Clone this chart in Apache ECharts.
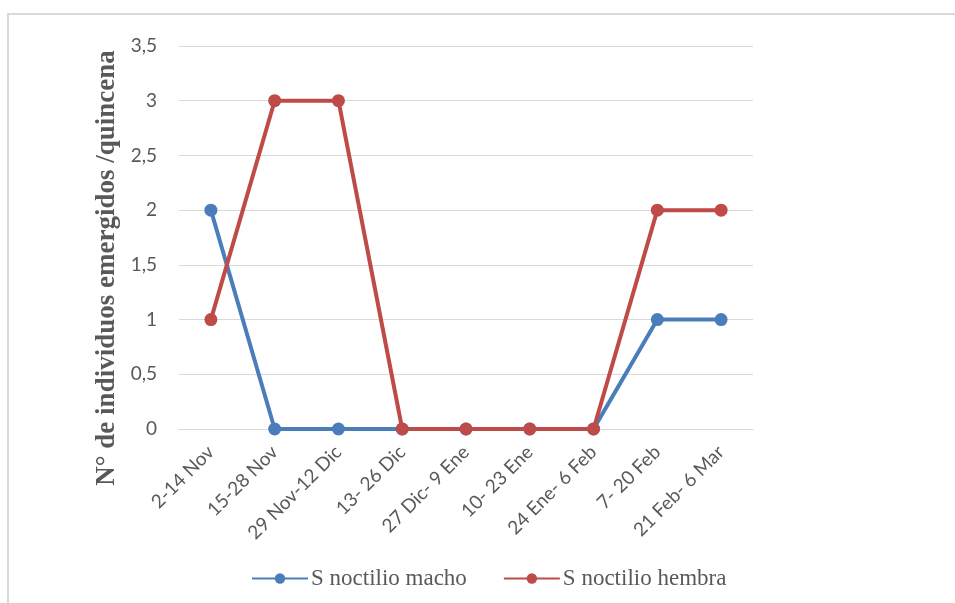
<!DOCTYPE html>
<html>
<head>
<meta charset="utf-8">
<script src="https://cdn.jsdelivr.net/npm/echarts@6/dist/echarts.min.js"></script>
<style>html,body{margin:0;padding:0;background:#fff}#c{width:955px;height:603px}</style>
</head>
<body>
<div id="c"></div>
<script>
const categories = ['2-14 Nov','15-28 Nov','29 Nov-12 Dic','13- 26 Dic','27 Dic- 9 Ene','10- 23 Ene','24 Ene- 6 Feb','7- 20 Feb','21 Feb- 6 Mar'];
const machoValues = [2,0,0,0,0,0,0,1,1];
const hembraValues = [1,3,3,0,0,0,0,2,2];
const seriesNames = ['S noctilio macho','S noctilio hembra'];
const yAxisTitle = 'N° de individuos emergidos /quincena';

const chart = echarts.init(document.getElementById('c'), null, {renderer:'canvas'});
chart.setOption({
  animation:false,
  backgroundColor:'#fff',
  graphic:[
    {type:'rect',shape:{x:8,y:14,width:1000,height:700},style:{fill:'none',stroke:'#d9d9d9',lineWidth:2},silent:true},
    {type:'text',x:107,y:268,rotation:Math.PI/2,silent:true,
     style:{text:yAxisTitle,align:'center',verticalAlign:'middle',fill:'#595959',
            font:'bold 27px "Liberation Serif"'}}
  ],
  grid:{left:179,right:202,top:46,bottom:174,containLabel:false},
  legend:{
    top:562,left:246,itemGap:36,itemWidth:56,itemHeight:13,
    textStyle:{fontFamily:'Liberation Serif',fontSize:23,color:'#595959',padding:[0,0,0,-2]},
    data:seriesNames
  },
  xAxis:{
    type:'category',data:categories,boundaryGap:true,
    axisLine:{show:true,lineStyle:{color:'#d9d9d9',width:1}},
    axisTick:{show:false},
    axisLabel:{rotate:45,interval:0,fontFamily:'Lato',fontSize:19,color:'#595959',margin:20}
  },
  yAxis:{
    type:'value',min:0,max:3.5,interval:0.5,
    axisLine:{show:false},axisTick:{show:false},
    splitLine:{lineStyle:{color:'#d9d9d9',width:1}},
    axisLabel:{fontFamily:'Lato',fontSize:19,color:'#595959',margin:22,
      formatter:v=>String(v).replace('.',',')}
  },
  series:[
    {name:seriesNames[0],type:'line',data:machoValues,symbol:'circle',symbolSize:13,
     lineStyle:{color:'#4a7ebb',width:4},itemStyle:{color:'#4a7ebb'}},
    {name:seriesNames[1],type:'line',data:hembraValues,symbol:'circle',symbolSize:13,
     lineStyle:{color:'#be4b48',width:4},itemStyle:{color:'#be4b48'}}
  ]
});
</script>
</body>
</html>
